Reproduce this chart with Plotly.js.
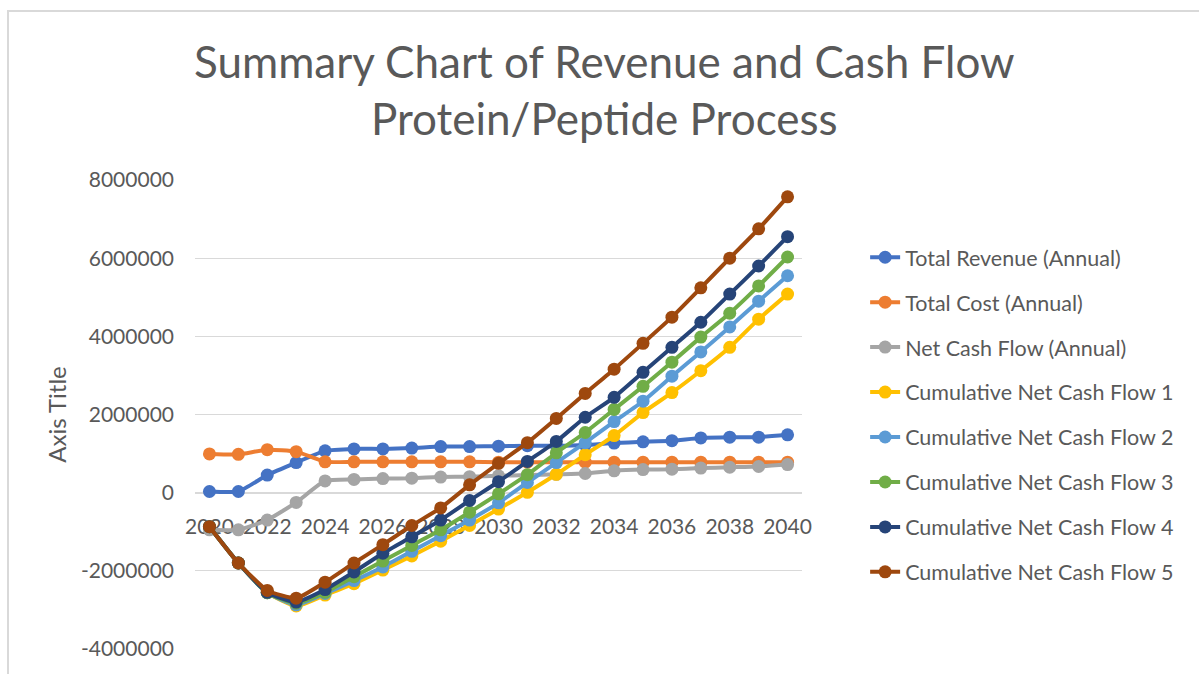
<!DOCTYPE html>
<html>
<head>
<meta charset="utf-8">
<script src="https://cdn.plot.ly/plotly-3.0.1.min.js"></script>
<style>
  html, body { margin: 0; padding: 0; background: #ffffff; }
  #wrap { position: relative; width: 1199px; height: 674px; overflow: hidden; }
  #chart { position: absolute; left: 0; top: 0; width: 1199px; height: 674px; }
  #frame { position: absolute; left: 7px; top: 10px; width: 1300px; height: 800px;
           border-left: 2px solid #d9d9d9; border-top: 2px solid #d9d9d9; pointer-events: none; }
</style>
</head>
<body>
<div id="wrap">
  <div id="chart"></div>
  <div id="frame"></div>
</div>
<script>
const years = [2020, 2021, 2022, 2023, 2024, 2025, 2026, 2027, 2028, 2029, 2030,
               2031, 2032, 2033, 2034, 2035, 2036, 2037, 2038, 2039, 2040];

const totalRevenue = [30000, 30000, 450000, 770000, 1070000, 1120000, 1120000, 1140000, 1180000, 1180000, 1190000,
                      1200000, 1200000, 1220000, 1270000, 1300000, 1330000, 1400000, 1420000, 1420000, 1480000];
const totalCost = [990000, 980000, 1100000, 1050000, 790000, 790000, 790000, 790000, 790000, 790000, 780000,
                   780000, 780000, 780000, 780000, 780000, 780000, 780000, 780000, 780000, 780000];
const netCashFlow = [-950000, -950000, -700000, -250000, 300000, 340000, 360000, 370000, 400000, 410000, 430000,
                     450000, 470000, 490000, 560000, 590000, 600000, 630000, 650000, 670000, 720000];
const cumNet1 = [-870000, -1800000, -2560000, -2900000, -2620000, -2330000, -1980000, -1620000, -1240000, -840000, -420000,
                 10000, 470000, 970000, 1460000, 2050000, 2560000, 3120000, 3720000, 4440000, 5080000];
const cumNet2 = [-870000, -1800000, -2560000, -2870000, -2580000, -2250000, -1900000, -1500000, -1100000, -700000, -260000,
                 260000, 770000, 1280000, 1820000, 2340000, 2980000, 3600000, 4240000, 4900000, 5550000];
const cumNet3 = [-870000, -1800000, -2560000, -2830000, -2550000, -2150000, -1750000, -1350000, -950000, -500000, -30000,
                 460000, 1020000, 1540000, 2130000, 2720000, 3340000, 3980000, 4590000, 5290000, 6030000];
const cumNet4 = [-870000, -1800000, -2550000, -2800000, -2480000, -2030000, -1550000, -1130000, -700000, -200000, 280000,
                 800000, 1310000, 1930000, 2440000, 3080000, 3720000, 4360000, 5080000, 5800000, 6550000];
const cumNet5 = [-870000, -1800000, -2500000, -2700000, -2290000, -1800000, -1330000, -840000, -390000, 200000, 750000,
                 1280000, 1900000, 2540000, 3160000, 3820000, 4490000, 5240000, 6000000, 6750000, 7570000];

const seriesNames = ["Total Revenue (Annual)", "Total Cost (Annual)", "Net Cash Flow (Annual)",
                     "Cumulative Net Cash Flow 1", "Cumulative Net Cash Flow 2", "Cumulative Net Cash Flow 3",
                     "Cumulative Net Cash Flow 4", "Cumulative Net Cash Flow 5"];
const seriesValues = [totalRevenue, totalCost, netCashFlow, cumNet1, cumNet2, cumNet3, cumNet4, cumNet5];
const seriesColors = ["#4472C4", "#ED7D31", "#A5A5A5", "#FFC000", "#5B9BD5", "#70AD47", "#264478", "#9E480E"];

const xTickVals = [2020, 2022, 2024, 2026, 2028, 2030, 2032, 2034, 2036, 2038, 2040];
const xTickText = ["2020", "2022", "2024", "2026", "2028", "2030", "2032", "2034", "2036", "2038", "2040"];
const yTickVals = [-4000000, -2000000, 0, 2000000, 4000000, 6000000, 8000000];
const yTickText = ["-4000000", "-2000000", "0", "2000000", "4000000", "6000000", "8000000"];

const FONT = "Lato, 'Open Sans', sans-serif";
const TXT = "#595959";

const traces = seriesNames.map((name, i) => ({
  type: "scatter",
  mode: "lines+markers",
  name: name,
  legendgroup: "g" + i,
  x: years,
  y: seriesValues[i],
  line: { color: seriesColors[i], width: 4, shape: "spline", smoothing: 0.5 },
  marker: { color: seriesColors[i], size: 13 },
  hoverinfo: "skip"
}));

const layout = {
  width: 1199,
  height: 674,
  paper_bgcolor: "#ffffff",
  plot_bgcolor: "#ffffff",
  margin: { l: 195, r: 397, t: 180, b: 25, pad: 0 },
  font: { family: FONT, color: TXT, size: 21 },
  title: {
    text: "Summary Chart of Revenue and Cash Flow<br>Protein/Peptide Process",
    font: { family: FONT, size: 44, color: TXT },
    xref: "container", x: 0.504, xanchor: "center",
    yref: "container", y: 0.885, yanchor: "middle"
  },
  xaxis: {
    range: [2019.5, 2040.5],
    tickvals: xTickVals,
    ticktext: xTickText,
    showgrid: false,
    zeroline: false,
    showline: true,
    linecolor: "#d9d9d9",
    linewidth: 1,
    ticks: "",
    anchor: "free",
    position: 1 / 3,
    ticklabelstandoff: 15,
    layer: "below traces",
    tickfont: { family: FONT, size: 21, color: TXT },
    fixedrange: true
  },
  yaxis: {
    range: [-4000000, 8000000],
    tickvals: yTickVals,
    ticktext: yTickText,
    showgrid: true,
    gridcolor: "#d9d9d9",
    gridwidth: 1,
    zeroline: false,
    showline: false,
    ticks: "",
    ticklabelstandoff: 20,
    layer: "below traces",
    tickfont: { family: FONT, size: 21, color: TXT },
    title: { text: "Axis Title", font: { family: FONT, size: 24, color: TXT }, standoff: 7 },
    fixedrange: true
  },
  showlegend: true,
  legend: {
    x: 1.104, xanchor: "left",
    y: 0.879, yanchor: "top",
    font: { family: FONT, size: 21.5, color: TXT },
    tracegroupgap: 14,
    itemwidth: 30,
    bgcolor: "rgba(0,0,0,0)"
  },
  hovermode: false
};

Plotly.newPlot("chart", traces, layout, { displayModeBar: false, staticPlot: true });
</script>
</body>
</html>
